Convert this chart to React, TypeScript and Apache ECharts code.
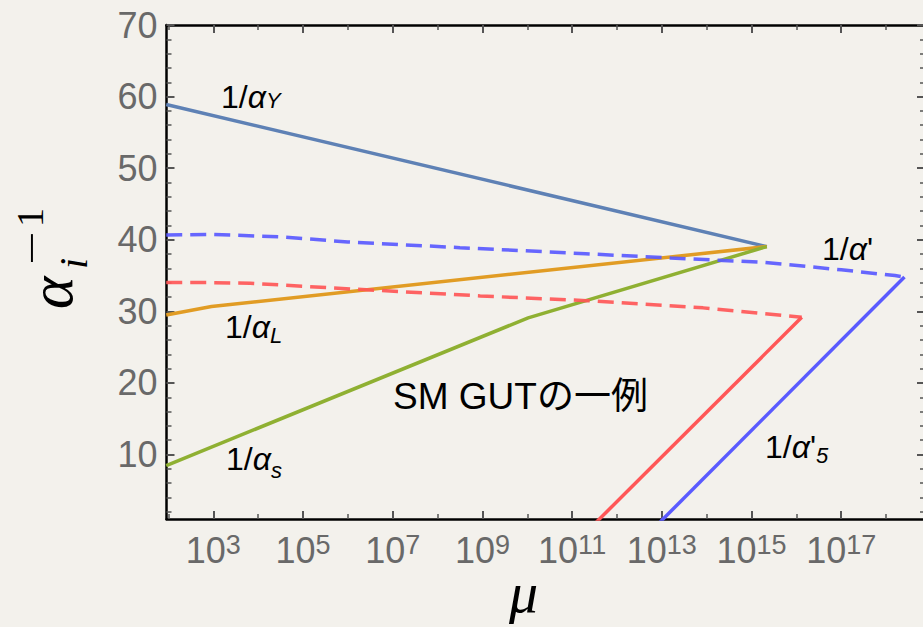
import { useEffect, useRef } from 'react';
import * as echarts from 'echarts';

// axis extents (x in log10(mu))
const logMuMin = 1.956;
const logMuMax = 18.868;
const invAlphaMin = 1;
const invAlphaMax = 70;

// tick positions
const xTickExponents = [3, 5, 7, 9, 11, 13, 15, 17];
const xMinorExponents = [2, 4, 6, 8, 10, 12, 14, 16, 18];
const yTickValues = [10, 20, 30, 40, 50, 60, 70];
const yMinorValues = [2, 4, 6, 8, 12, 14, 16, 18, 22, 24, 26, 28, 32, 34, 36, 38, 42, 44, 46, 48, 52, 54, 56, 58, 62, 64, 66, 68];

// 1/alpha_Y
const alphaYLogMu = [1.95, 15.34];
const alphaYInv = [58.9, 39.05];
// 1/alpha_L
const alphaLLogMu = [1.95, 2.96, 15.34];
const alphaLInv = [29.5, 30.67, 39.05];
// 1/alpha_s
const alphaSLogMu = [1.95, 10.02, 15.34];
const alphaSInv = [8.46, 29.1, 39.05];
// red dashed
const redDashLogMu = [1.95, 2.85, 3.82, 6.05, 8.95, 11.32, 13.92, 16.12];
const redDashInv = [34.02, 34.02, 33.93, 33.14, 32.16, 31.5, 30.49, 29.18];
// red solid
const redSolidLogMu = [16.12, 11.45];
const redSolidInv = [29.18, 0];
// blue dashed 1/alpha'
const blueDashLogMu = [1.95, 3.0, 4.5, 6.0, 8.5, 11.3, 13.2, 15.3, 17.0, 18.2, 18.41];
const blueDashInv = [40.68, 40.75, 40.4, 39.7, 38.9, 38.05, 37.45, 36.85, 35.8, 35.0, 34.8];
// blue solid 1/alpha'_5
const blueSolidLogMu = [18.41, 12.87];
const blueSolidInv = [34.8, 0];

const zip = (xs: number[], ys: number[]) => xs.map((x, i) => [x, ys[i]]);

const SANS = "'Liberation Sans', Arial, 'Noto Sans CJK JP', sans-serif";
const SERIF = "'Liberation Serif', 'DejaVu Serif', serif";
const BG = '#f3f1ec';
const TICK_TEXT = '#696969';

function labelText(x: number, y: number, sub: string, subPad: number, prime = false) {
  return {
    type: 'text',
    x,
    y,
    silent: true,
    style: {
      text: `{n|1/}{g|α}${prime ? "{p|'}" : ''}{s|${sub}}`,
      align: 'left',
      verticalAlign: 'middle',
      fill: '#000',
      rich: {
        n: { fontFamily: SANS, fontSize: 32, fill: '#000' },
        g: { fontFamily: SANS, fontSize: 32, fontStyle: 'italic', fill: '#000' },
        p: { fontFamily: SANS, fontSize: 32, fill: '#000' },
        s: { fontFamily: SANS, fontSize: 22, fontStyle: 'italic', fill: '#000', padding: [subPad, 0, 0, 0] },
      },
    },
  };
}

export default function App() {
  const ref = useRef<HTMLDivElement>(null);
  useEffect(() => {
    document.body.style.margin = '0';
    document.body.style.overflow = 'hidden';
    document.body.style.background = BG;
    const chart = echarts.init(ref.current!, undefined, { renderer: 'svg' });
    const lineSeries = (data: number[][], color: string, dashed: boolean, z = 3) => ({
      type: 'line',
      data,
      symbol: 'none',
      showSymbol: false,
      silent: true,
      z,
      lineStyle: { color, width: 3.5, type: dashed ? [16, 8] : 'solid', opacity: dashed ? 0.92 : 1 },
    });
    const minorTick = (vals: number[]) => ({ show: true, inside: true, length: 5, customValues: vals, lineStyle: { color: '#555', width: 1.5 } });
    const majorTick = (vals: number[]) => ({ show: true, inside: true, length: 8, customValues: vals, lineStyle: { color: '#555', width: 2 } });
    const axisLineBlack = { show: true, lineStyle: { color: '#000', width: 2.5 } };
    const baseX = { type: 'value', min: logMuMin, max: logMuMax, splitLine: { show: false } };
    const baseY = { type: 'value', min: invAlphaMin, max: invAlphaMax, splitLine: { show: false } };
    const option: any = {
      animation: false,
      backgroundColor: BG,
      grid: { left: 166.5, top: 25, right: 1, bottom: 108, containLabel: false, outerBoundsMode: 'none' },
      xAxis: [
        {
          ...baseX,
          position: 'bottom',
          axisLine: axisLineBlack,
          axisTick: majorTick(xTickExponents),
          axisLabel: {
            show: true,
            margin: 12,
            color: TICK_TEXT,
            customValues: xTickExponents,
            formatter: (v: number) => `{b|10}{s|${Math.round(v)}}`,
            rich: {
              b: { fontFamily: SANS, fontSize: 36, color: TICK_TEXT },
              s: { fontFamily: SANS, fontSize: 27, color: TICK_TEXT, padding: [0, 0, 11, 0] },
            },
          },
        },
        { ...baseX, position: 'bottom', axisLine: { show: false }, axisTick: minorTick(xMinorExponents), axisLabel: { show: false } },
        { ...baseX, position: 'top', axisLine: axisLineBlack, axisTick: majorTick(xTickExponents), axisLabel: { show: false } },
        { ...baseX, position: 'top', axisLine: { show: false }, axisTick: minorTick(xMinorExponents), axisLabel: { show: false } },
      ],
      yAxis: [
        {
          ...baseY,
          position: 'left',
          axisLine: axisLineBlack,
          axisTick: majorTick(yTickValues),
          axisLabel: {
            show: true,
            margin: 9,
            color: TICK_TEXT,
            fontFamily: SANS,
            fontSize: 36,
            customValues: yTickValues,
            formatter: (v: number) => String(Math.round(v)),
          },
        },
        { ...baseY, position: 'left', axisLine: { show: false }, axisTick: minorTick(yMinorValues), axisLabel: { show: false } },
        { ...baseY, position: 'right', axisLine: axisLineBlack, axisTick: majorTick(yTickValues), axisLabel: { show: false } },
        { ...baseY, position: 'right', axisLine: { show: false }, axisTick: minorTick(yMinorValues), axisLabel: { show: false } },
      ],
      series: [
        lineSeries(zip(alphaYLogMu, alphaYInv), '#5e81b5', false),
        lineSeries(zip(alphaLLogMu, alphaLInv), '#e19c24', false),
        lineSeries(zip(alphaSLogMu, alphaSInv), '#8fb032', false),
        lineSeries(zip(redDashLogMu, redDashInv), '#ff5757', true, 4),
        lineSeries(zip(redSolidLogMu, redSolidInv), '#ff5757', false, 4),
        lineSeries(zip(blueDashLogMu, blueDashInv), '#5a5aff', true, 4),
        lineSeries(zip(blueSolidLogMu, blueSolidInv), '#5a5aff', false, 4),
      ],
      graphic: [
        labelText(221, 97, 'Y', 6),
        labelText(225, 327, 'L', 16),
        labelText(226, 459, 's', 22),
        labelText(822, 249, '', 6, true),
        labelText(765, 447, '5', 16, true),
        {
          type: 'text',
          x: 393,
          y: 396,
          silent: true,
          style: {
            text: 'SM GUTの一例',
            fontFamily: SANS,
            fontSize: 37,
            fill: '#000',
            align: 'left',
            verticalAlign: 'middle',
          },
        },
        {
          type: 'text',
          x: 509,
          y: 592,
          silent: true,
          style: {
            text: 'μ',
            fontFamily: SERIF,
            fontSize: 58,
            fontStyle: 'italic',
            fill: '#000',
            align: 'left',
            verticalAlign: 'middle',
          },
        },
        {
          type: 'group',
          x: 72,
          y: 309,
          rotation: Math.PI / 2,
          silent: true,
          children: [
            { type: 'text', x: 0, y: -21, style: { text: 'α', fontFamily: SERIF, fontSize: 62, fontStyle: 'italic', fill: '#000', align: 'left', verticalAlign: 'middle' } },
            { type: 'text', x: 40, y: 1.5, style: { text: 'i', fontFamily: SERIF, fontSize: 40, fontStyle: 'italic', fill: '#000', align: 'left', verticalAlign: 'middle' } },
            { type: 'text', x: 44, y: -40, scaleX: 1.5, style: { text: '−', fontFamily: SERIF, fontSize: 40, fill: '#000', align: 'left', verticalAlign: 'middle' } },
            { type: 'text', x: 82, y: -42, style: { text: '1', fontFamily: SERIF, fontSize: 38, fill: '#000', align: 'left', verticalAlign: 'middle' } },
          ],
        },
      ],
    };
    chart.setOption(option);
    return () => chart.dispose();
  }, []);
  return <div ref={ref} style={{ width: 926, height: 627, background: BG }} />;
}
